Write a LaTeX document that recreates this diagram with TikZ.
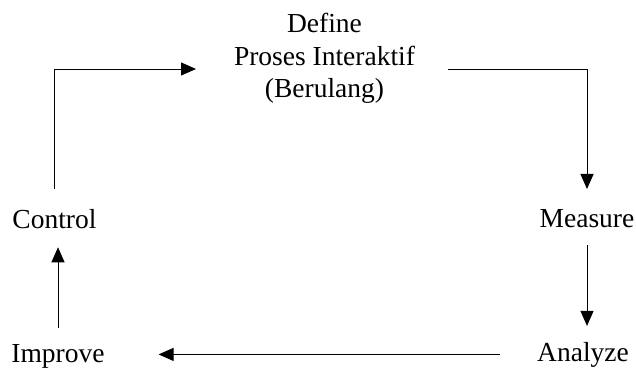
\documentclass[tikz,border=0pt]{standalone}
\usepackage{fontspec}
\setmainfont{Liberation Serif}
\usetikzlibrary{arrows.meta}
\begin{document}
\begin{tikzpicture}[x=1pt,y=-1pt,
  lbl/.style={inner sep=0pt,outer sep=0pt,font=\fontsize{27.5}{32.5}\selectfont},
  conn/.style={line width=1pt,draw=black},
  arr/.style={conn,-{Triangle[length=15pt,width=13pt]}}]
\useasboundingbox (0,0) rectangle (636,369);
\node[lbl,align=center,anchor=north] (define) at (324.5,13.2) {Define\\Proses Interaktif\\(Berulang)};
\node[lbl,anchor=base] (control) at (54.5,228) {Control};
\node[lbl,anchor=base] (measure) at (587,227) {Measure};
\node[lbl,anchor=base] (analyze) at (583,361) {Analyze};
\node[lbl,anchor=base] (improve) at (58,362) {Improve};
\coordinate (tl) at (196,69);
\coordinate (tr) at (448,69);
\draw[arr] ([yshift=20pt]control.north) |- (tl);
\draw[arr] (tr) -| ([yshift=20pt]measure.north);
\draw[arr] ([yshift=-18pt]measure.south) -- ([yshift=16pt]measure.south |- analyze.north);
\draw[arr] ([xshift=-37pt]analyze.west) -- ([xshift=54pt]analyze.west -| improve.east);
\draw[arr] ([yshift=16pt]improve.north) -- ([yshift=-19pt]improve.north |- control.south);
\end{tikzpicture}
\end{document}
